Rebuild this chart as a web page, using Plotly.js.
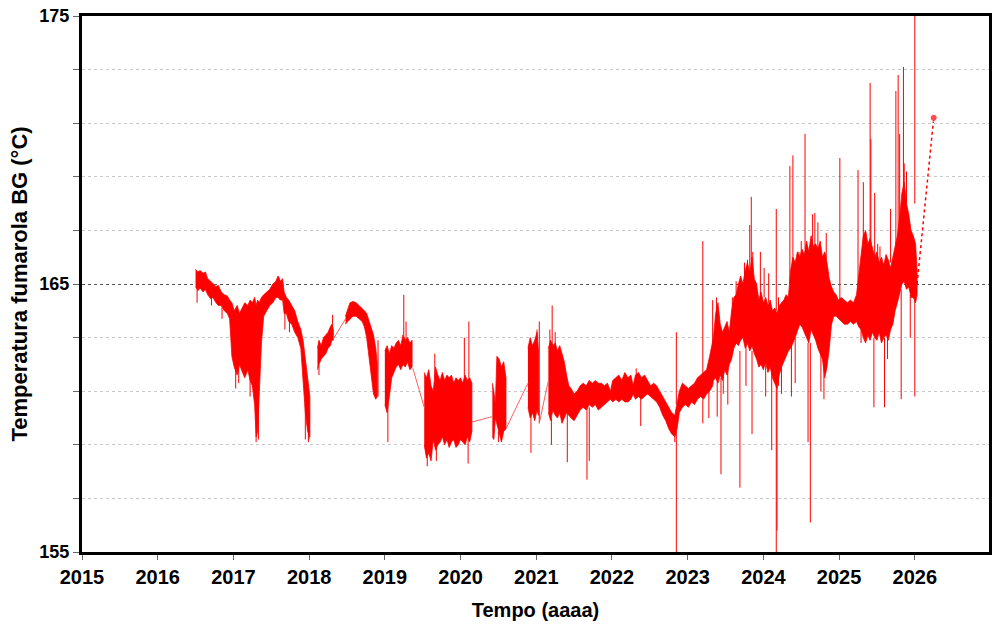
<!DOCTYPE html>
<html><head><meta charset="utf-8">
<script src="https://cdn.plot.ly/plotly-3.0.1.min.js"></script>
<style>html,body{margin:0;padding:0;background:#fff}#chart{width:995px;height:640px}</style>
</head><body><div id="chart"></div>
<script>
// Envelope of the noisy temperature record (decimal year, upper, lower); null separates data gaps
const bandT = [
2016.50,2016.53,2016.56,2016.60,2016.63,2016.66,2016.70,2016.73,2016.77,2016.80,2016.84,2016.88,2016.92,2016.95,
2016.98,2017.01,2017.05,2017.08,2017.12,2017.15,2017.19,2017.22,2017.25,2017.28,2017.30,2017.32,2017.34,2017.37,
2017.40,2017.44,2017.48,2017.52,2017.56,2017.59,2017.62,2017.65,2017.67,2017.70,2017.73,2017.77,2017.81,2017.85,
2017.89,2017.92,2017.95,2017.98,2018.01,null,
2018.11,2018.13,2018.16,2018.19,2018.22,2018.25,2018.28,2018.30,2018.32,null,
2018.48,2018.51,2018.54,2018.58,2018.62,2018.66,2018.70,2018.73,2018.76,2018.79,2018.82,2018.85,2018.88,2018.90,null,
2019.00,2019.03,2019.06,2019.09,2019.12,2019.15,2019.18,2019.21,2019.24,2019.27,2019.30,2019.33,2019.36,null,
2019.52,2019.55,2019.58,2019.61,2019.64,2019.67,2019.70,2019.73,2019.76,2019.79,2019.82,2019.85,2019.88,2019.91,
2019.94,2019.97,2020.00,2020.03,2020.06,2020.09,2020.12,2020.15,null,
2020.42,2020.44,2020.46,2020.48,2020.51,2020.54,2020.57,2020.60,null,
2020.89,2020.92,2020.95,2020.98,2021.01,2021.03,null,
2021.16,2021.19,2021.22,2021.25,2021.28,2021.31,2021.34,2021.37,2021.40,
2021.43,2021.46,2021.50,2021.54,2021.58,2021.62,2021.66,2021.70,2021.74,2021.78,2021.82,2021.86,2021.90,2021.94,
2021.98,2022.01,2022.05,2022.09,2022.13,2022.17,2022.21,2022.25,2022.28,2022.31,2022.35,2022.39,2022.43,2022.47,
2022.51,2022.55,2022.59,2022.63,2022.67,2022.71,2022.75,2022.79,2022.83,2022.86,2022.89,2022.93,2022.97,2023.01,
2023.05,2023.09,2023.13,2023.17,2023.21,2023.25,2023.29,2023.33,
2023.34,2023.37,2023.40,2023.43,2023.46,2023.49,2023.52,2023.55,2023.58,2023.61,2023.64,2023.67,2023.70,2023.73,
2023.76,2023.79,2023.82,2023.85,2023.88,2023.91,2023.94,2023.97,2024.00,2024.03,2024.06,2024.09,2024.12,2024.15,
2024.18,2024.21,2024.24,2024.27,2024.30,2024.33,2024.36,2024.39,2024.42,2024.45,2024.48,2024.51,2024.54,2024.57,
2024.60,2024.63,2024.66,2024.69,2024.72,2024.75,2024.78,2024.81,2024.84,2024.87,2024.90,2024.93,2024.96,2024.99,
2025.03,2025.07,2025.11,2025.15,2025.19,2025.23,2025.26,2025.29,2025.32,2025.35,2025.38,2025.41,2025.44,2025.47,
2025.50,2025.53,2025.56,2025.59,2025.62,2025.65,2025.68,2025.71,2025.74,2025.77,2025.80,2025.83,2025.86,2025.89,
2025.92,2025.95,2025.98,2026.01,2026.03
];
const bandHi = [
165.55,165.45,165.5,165.4,165.45,165.2,165.1,165.0,164.9,164.95,164.7,164.6,164.55,164.4,
164.3,164.0,164.2,163.9,164.1,164.3,164.2,164.4,164.3,164.5,164.2,164.4,164.3,164.5,
164.6,164.7,164.8,165.0,165.1,165.3,165.1,165.2,164.7,164.5,164.4,164.2,164.0,163.6,
163.3,162.9,162.2,161.6,160.8,null,
162.6,162.9,162.7,163.0,163.1,163.2,163.4,163.5,163.3,null,
163.8,164.1,164.3,164.35,164.3,164.2,164.1,164.0,163.9,163.6,163.4,163.1,162.6,162.0,null,
162.5,162.7,162.4,162.7,162.6,162.8,162.9,162.7,163.1,162.9,163.0,162.8,162.9,null,
161.7,161.5,161.8,161.2,161.0,161.9,161.6,161.4,161.7,161.4,161.6,161.5,161.6,161.3,
161.5,161.4,161.5,161.3,161.6,161.4,161.5,161.3,null,
161.3,161.0,160.5,162.3,162.2,161.9,162.1,161.5,null,
162.6,163.0,162.7,162.9,163.2,162.5,null,
162.6,162.9,162.7,162.8,162.5,162.7,162.4,162.1,161.6,
161.2,161.1,160.9,161.0,161.2,161.3,161.2,161.4,161.3,161.4,161.3,161.3,161.2,161.3,
161.0,161.4,161.5,161.6,161.4,161.7,161.5,161.6,161.2,161.6,161.7,161.5,161.6,161.4,
161.2,161.3,161.2,161.0,160.8,160.6,160.4,160.2,160.1,160.5,161.0,161.3,161.2,161.1,
161.2,161.3,161.5,161.6,161.7,161.8,162.3,162.8,
163.0,163.9,164.3,163.5,163.2,163.4,163.6,163.2,164.0,164.5,164.6,165.0,165.3,165.0,
165.5,165.8,165.4,166.0,165.2,165.0,164.4,164.7,164.3,164.5,164.2,164.4,164.0,164.1,
163.9,164.2,164.3,164.4,164.6,164.5,165.5,166.0,165.8,166.2,166.0,166.3,166.1,166.6,
166.2,166.8,166.4,166.5,166.3,166.6,166.0,166.2,165.8,165.2,164.9,164.7,164.6,164.4,
164.5,164.4,164.3,164.4,164.3,164.6,165.3,166.0,166.8,167.0,166.5,166.7,166.3,166.0,
166.2,165.8,166.0,165.7,166.1,165.9,165.6,166.0,166.4,166.8,167.5,168.4,168.8,168.0,
167.6,167.0,166.8,166.5,165.5
];
const bandLo = [
164.9,164.75,164.85,164.7,164.8,164.6,164.45,164.5,164.3,164.2,164.2,164.0,163.9,163.7,
162.3,161.9,161.6,162.0,161.7,161.5,161.8,161.4,161.2,160.5,159.3,159.5,160.8,162.8,
163.8,164.0,164.2,164.3,164.5,164.5,164.4,164.4,163.9,163.9,163.6,163.5,163.2,163.0,
162.6,161.5,160.2,159.5,159.3,null,
161.8,162.0,162.2,162.3,162.4,162.6,162.7,162.9,162.9,null,
163.5,163.6,163.7,163.8,163.8,163.7,163.6,163.4,163.0,162.3,161.6,160.9,160.7,160.8,null,
160.5,160.2,160.8,161.5,161.7,161.9,162.0,161.8,162.0,161.9,162.1,161.8,161.9,null,
159.0,158.5,158.7,158.4,159.2,158.8,159.0,159.1,159.3,159.0,159.2,158.9,159.1,159.2,
158.9,159.0,159.2,159.1,159.0,159.3,159.1,159.5,null,
159.3,159.2,160.0,159.7,159.4,159.1,159.5,159.6,null,
160.4,160.0,160.2,159.9,160.3,160.1,null,
160.2,159.9,160.3,160.1,160.0,160.2,159.8,160.0,160.2,
160.1,160.0,159.9,160.1,160.3,160.4,160.3,160.5,160.4,160.5,160.3,160.4,160.5,160.6,
160.7,160.6,160.7,160.6,160.7,160.6,160.6,160.7,160.9,160.7,160.8,160.7,160.8,160.9,
160.8,160.7,160.6,160.4,160.1,159.9,159.6,159.4,159.3,159.6,160.2,160.4,160.5,160.4,
160.6,160.5,160.7,160.8,160.7,160.9,161.0,161.2,
161.4,161.5,161.3,161.6,161.4,161.8,161.6,162.0,162.2,162.6,162.8,162.7,162.9,163.0,
162.6,162.8,162.5,162.7,162.4,162.2,161.9,162.0,161.8,162.1,161.7,161.9,161.5,161.3,
161.1,161.6,161.9,162.1,162.3,162.5,162.6,162.8,163.0,163.2,163.5,163.4,163.2,163.0,
162.8,163.3,163.1,162.9,162.6,162.4,162.2,161.5,161.9,162.6,163.5,163.8,163.8,163.7,
163.6,163.5,163.5,163.6,163.5,163.6,163.4,163.3,163.0,162.8,163.1,162.9,163.2,163.0,
162.9,163.2,162.8,163.0,163.1,162.9,163.3,163.5,164.0,164.3,164.6,165.0,165.1,164.8,
164.9,164.5,164.5,164.3,164.6
];
// Isolated spikes: time, value at band, extreme value
const spikeT    = [2016.52,2016.71,2016.85,2017.03,2017.07,2017.22,2017.30,2017.33,2017.60,2017.68,2017.74,2017.95,2017.99,2018.00,2018.13,2018.31,2018.91,
  2019.04,2019.25,2019.28,2019.56,2019.66,2019.68,2020.05,2020.10,2020.11,2020.50,2020.93,2021.01,2021.04,2021.18,2021.20,2021.21,2021.25,2021.41,
  2021.67,2021.70,2022.32,2022.38,2022.83,2022.85,2022.85,2023.20,2023.20,2023.28,2023.33,2023.38,2023.39,2023.44,2023.47,2023.53,2023.59,2023.64,
  2023.69,2023.75,2023.77,2023.79,2023.82,2023.84,2023.85,2023.86,2023.96,2024.01,2024.03,2024.07,2024.11,2024.17,2024.17,2024.18,2024.20,2024.24,
  2024.35,2024.37,2024.39,2024.42,2024.47,2024.50,2024.55,2024.59,2024.62,2024.65,2024.68,2024.72,2024.76,2024.80,2024.83,
  2025.01,2025.25,2025.29,2025.32,2025.41,2025.42,2025.46,2025.47,2025.51,2025.54,2025.60,2025.64,2025.68,2025.75,2025.78,
  2025.80,2025.82,2025.85,2025.86,2025.89,2025.94,2026.00,2026.00];
const spikeFrom = [164.8,164.6,164.2,162.5,162.0,162.5,161.0,161.0,165.0,164.0,163.8,160.5,160.0,160.2,162.0,163.3,160.8,
  160.5,162.8,162.8,159.0,161.5,159.0,161.0,159.2,161.0,159.5,160.2,162.0,159.8,162.5,160.0,162.5,162.5,160.2,
  160.4,160.4,161.5,160.8,159.5,159.5,160.5,161.0,160.7,161.0,162.5,163.5,161.6,161.5,161.6,161.8,163.8,164.5,
  162.5,165.0,162.8,165.5,165.0,165.5,162.5,165.5,164.5,164.5,162.1,164.3,161.8,164.0,161.2,161.2,161.2,162.0,
  165.0,162.8,165.8,163.0,165.9,166.0,166.3,162.8,162.8,163.3,166.4,166.2,162.5,162.0,165.9,
  164.4,164.6,163.5,166.5,166.5,166.5,163.0,166.0,166.1,165.9,163.0,163.0,165.8,166.3,166.6,
  167.3,164.8,167.5,168.6,168.0,164.6,168.0,164.5];
const spikeTo   = [164.3,164.2,163.7,161.1,161.3,160.8,159.1,159.2,165.25,163.3,163.2,159.2,159.1,159.2,161.6,163.85,162.9,
  159.1,164.6,163.6,158.2,162.4,158.4,163.0,158.3,163.6,159.1,158.7,163.3,163.6,163.3,159.0,164.2,163.2,158.35,
  157.7,158.4,161.85,159.7,159.1,155.0,163.2,166.6,159.8,160.0,164.4,164.5,160.05,157.9,160.9,160.5,164.5,165.1,
  157.4,165.8,161.2,165.9,167.2,168.25,159.4,166.2,166.2,165.6,160.8,165.4,158.8,167.8,155.0,155.8,164.5,160.9,
  169.4,160.8,169.8,161.3,166.2,166.6,170.6,159.1,156.1,167.6,167.65,167.3,161.0,160.7,166.9,
  169.7,169.25,162.8,168.8,172.5,170.4,160.4,168.4,166.5,166.4,160.4,162.2,167.8,172.2,172.8,
  170.6,160.7,173.1,169.5,169.2,163.0,175.0,160.8];
// Straight joins across data gaps
const linkT = [2018.32,2018.48,null,2019.37,2019.52,null,2020.15,2020.42,null,2020.60,2020.89,null,2021.04,2021.16];
const linkV = [162.95,163.7,null,161.85,160.4,null,159.85,160.05,null,159.6,161.3,null,159.8,161.4];
// Latest (dotted) reading
const lastT = [2026.03,2026.25];
const lastV = [165.0,171.2];
const yearTicks = [2015,2016,2017,2018,2019,2020,2021,2022,2023,2024,2025,2026];
const yLabels = [155,165,175];

const polyX = [], polyY = [];
let seg = [];
function flush(){
  if(!seg.length) return;
  seg.forEach(i => { polyX.push(bandT[i]); polyY.push(bandHi[i]); });
  seg.slice().reverse().forEach(i => { polyX.push(bandT[i]); polyY.push(bandLo[i]); });
  polyX.push(null); polyY.push(null);
  seg = [];
}
bandT.forEach((t,i)=>{ if(t===null) flush(); else seg.push(i); });
flush();

const sx = [], sy = [];
spikeT.forEach((t,i)=>{ sx.push(t,t,null); sy.push(spikeFrom[i], spikeTo[i], null); });

const RED = '#ff0000';
const FONT = 'Liberation Sans, Arial, sans-serif';
const traces = [
  {x: polyX, y: polyY, type:'scatter', mode:'lines', fill:'toself', fillcolor:RED,
   line:{color:RED, width:0.8}, connectgaps:false, hoverinfo:'skip'},
  {x: sx, y: sy, type:'scatter', mode:'lines', line:{color:RED, width:1}, connectgaps:false},
  {x: linkT, y: linkV, type:'scatter', mode:'lines', line:{color:'#ff6060', width:1}, connectgaps:false},
  {x: lastT, y: lastV, type:'scatter', mode:'lines+markers', line:{color:RED, width:1.5, dash:'dot'},
   marker:{color:RED, size:[0,7]}}
];
const layout = {
  width:995, height:640, showlegend:false,
  paper_bgcolor:'#fff', plot_bgcolor:'#fff',
  margin:{l:82, r:6, t:16, b:88},
  font:{family:FONT, color:'#000'},
  xaxis:{range:[2015,2026.98], tickvals:yearTicks, ticktext:yearTicks.map(String),
    ticks:'outside', ticklen:5, tickwidth:1, tickcolor:'#666',
    tickfont:{family:FONT, size:20, weight:'bold'},
    showline:true, linewidth:3, linecolor:'#000', mirror:true,
    showgrid:false, zeroline:false,
    title:{text:'Tempo (aaaa)', font:{family:FONT, size:20, weight:'bold'}, standoff:16}},
  yaxis:{range:[155,175], tickvals:yLabels, ticktext:yLabels.map(String),
    ticks:'outside', ticklen:6, tickwidth:1, tickcolor:'#666',
    tickfont:{family:FONT, size:18, weight:'bold'},
    showline:true, linewidth:3, linecolor:'#000', mirror:true,
    showgrid:true, gridcolor:'#555', gridwidth:1, griddash:'dot', zeroline:false,
    minor:{tick0:155, dtick:2, ticks:'outside', ticklen:6, tickcolor:'#666',
      showgrid:true, gridcolor:'#c8c8c8', gridwidth:1, griddash:'dot'},
    title:{text:'Temperatura fumarola BG (°C)', font:{family:FONT, size:22, weight:'bold'}, standoff:6}}
};
Plotly.newPlot('chart', traces, layout, {displayModeBar:false, staticPlot:true});
</script></body></html>
